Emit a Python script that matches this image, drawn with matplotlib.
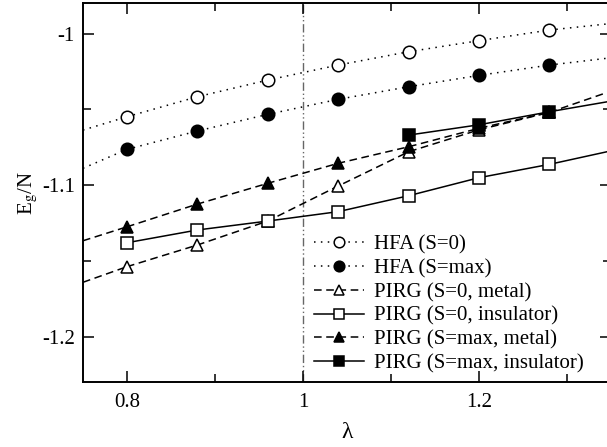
import matplotlib
matplotlib.use("Agg")
import matplotlib.pyplot as plt

plt.rcParams.update({"font.family": "Liberation Serif", "font.size": 15,
                     "mathtext.fontset": "stix", "axes.unicode_minus": False})

# data
lam = [0.80, 0.88, 0.96, 1.04, 1.12, 1.20, 1.28]
hfa_s0 = [-1.0549, -1.0417, -1.0307, -1.0208, -1.0120, -1.0047, -0.9977]
hfa_smax = [-1.0764, -1.0643, -1.0533, -1.0434, -1.0351, -1.0276, -1.0208]
pirg_s0_met = [-1.1538, -1.1395, -1.1237, -1.1006, -1.0780, -1.0635, -1.0520]
pirg_s0_ins = [-1.1380, -1.1296, -1.1237, -1.1175, -1.1070, -1.0951, -1.0863]
pirg_smax_met = [-1.1275, -1.1125, -1.0988, -1.0856, -1.0747, -1.0625, -1.0520]
lam_ins = [1.12, 1.20, 1.28]
pirg_smax_ins = [-1.0670, -1.0602, -1.0516]
# where the curves leave the frame
x_lo, x_hi = 0.75, 1.35
edge_lo = {"hfa_s0": -1.0637, "hfa_smax": -1.0889, "s0_met": -1.1641, "smax_met": -1.1367}
edge_hi = {"hfa_s0": -0.9934, "hfa_smax": -1.0160, "s0_met": -1.0380,
           "s0_ins": -1.0774, "smax_ins": -1.0446}

fig = plt.figure(figsize=(6.07, 4.47), dpi=100)
ax = fig.add_axes([0.1367, 0.145, 0.8699, 0.8478])

mk = dict(ms=9, mec="k", mew=1.1, color="k", lw=1.1)
dot = (0, (1, 3.5)); dash = (0, (5, 3))
W, K = "white", "k"

series = [
    (lam, hfa_s0, "hfa_s0", dot, "o", W, "HFA (S=0)"),
    (lam, hfa_smax, "hfa_smax", dot, "o", K, "HFA (S=max)"),
    (lam, pirg_s0_met, "s0_met", dash, "^", W, "PIRG (S=0, metal)"),
    (lam, pirg_s0_ins, "s0_ins", "-", "s", W, "PIRG (S=0, insulator)"),
    (lam, pirg_smax_met, "smax_met", dash, "^", K, "PIRG (S=max, metal)"),
    (lam_ins, pirg_smax_ins, "smax_ins", "-", "s", K, "PIRG (S=max, insulator)"),
]
for i, (x, y, key, ls, m, fc, lab) in enumerate(series):
    if key in edge_lo:
        ax.plot([x_lo, x[0]], [edge_lo[key], y[0]], ls=ls, color="k", lw=1.1, zorder=2)
    if key in edge_hi:
        ax.plot([x[-1], x_hi], [y[-1], edge_hi[key]], ls=ls, color="k", lw=1.1, zorder=2)
    ax.plot(x, y, ls=ls, marker=m, mfc=fc, label=lab, zorder=3 + i, **mk)

ax.axvline(1.0, color="#666666", lw=1.0, ls=(0, (6, 2, 1, 2, 1, 2)), zorder=1)

ax.set_xlim(x_lo, x_hi)
ax.set_ylim(-1.23, -0.98)
ax.set_xticks([0.8, 1.0, 1.2])
ax.set_xticklabels(["0.8", "1", "1.2"])
ax.set_xticks([0.9, 1.1, 1.3], minor=True)
ax.set_yticks([-1.0, -1.1, -1.2])
ax.set_yticklabels(["-1", "-1.1", "-1.2"])
ax.set_yticks([-1.05, -1.15], minor=True)
ax.tick_params(which="both", direction="in", top=True, right=True, width=1.1)
ax.tick_params(which="major", length=8)
ax.tick_params(which="minor", length=5.5)
ax.tick_params(axis="x", pad=8)
ax.tick_params(axis="y", pad=6)
for s in ax.spines.values():
    s.set_linewidth(1.4)

ax.set_xlabel("λ", fontsize=17, labelpad=7)
ax.set_ylabel(r"E$_{\rm g}$/N", fontsize=15, labelpad=1)

ax.legend(loc="upper left", bbox_to_anchor=(0.437, 0.388), frameon=False,
          handlelength=2.4, handletextpad=0.5, labelspacing=0.2,
          borderpad=0, borderaxespad=0, numpoints=1, markerscale=0.85)

fig.savefig("out.png", dpi=100)
